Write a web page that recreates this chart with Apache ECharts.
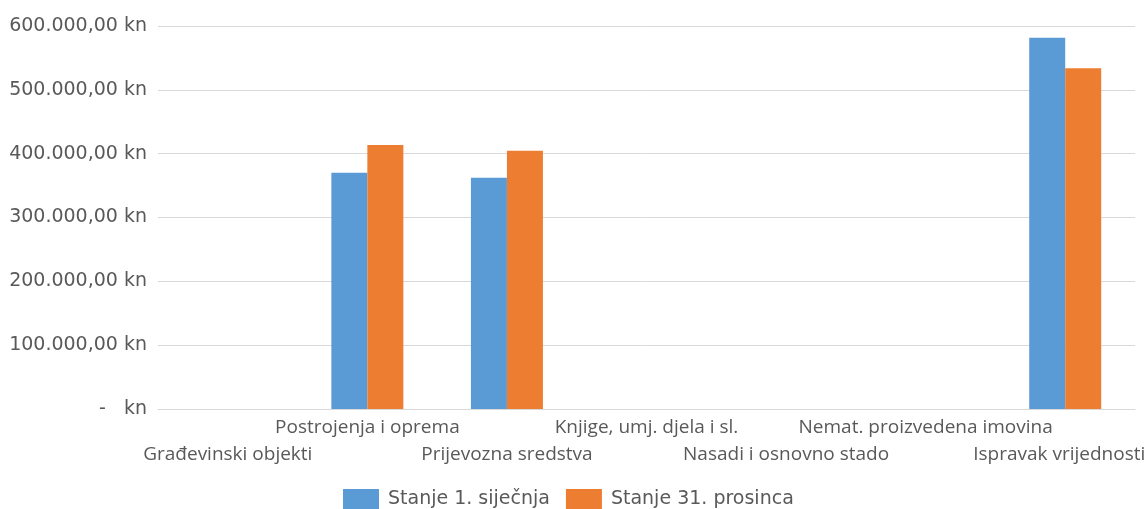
<!DOCTYPE html>
<html lang="hr">
<head>
    <meta charset="UTF-8">
    <title>Stanje imovine</title>
    <style type="text/css">
        html, body { margin: 0; padding: 0; background: #fff; }
        #chart { width: 1146px; height: 509px; }
    </style>
    <script src="https://cdn.jsdelivr.net/npm/echarts@6/dist/echarts.min.js"></script>
</head>
<body>
<div id="chart"></div>
<script type="application/javascript">
    var categories = ['Građevinski objekti', 'Postrojenja i oprema', 'Prijevozna sredstva',
        'Knjige, umj. djela i sl.', 'Nasadi i osnovno stado', 'Nemat. proizvedena imovina',
        'Ispravak vrijednosti'];
    var seriesNames = ['Stanje 1. siječnja', 'Stanje 31. prosinca'];
    var stanjeSijecanj = [0, 370200, 362400, 0, 0, 0, 581700];
    var stanjeProsinac = [0, 413600, 404700, 0, 0, 0, 533800];
    var yTicks = [0, 100000, 200000, 300000, 400000, 500000, 600000];

    function formatKn(v) {
        if (v === 0) return '-   kn';
        var s = Math.round(v).toString().replace(/\B(?=(\d{3})+(?!\d))/g, '.');
        return s + ',00 kn';
    }

    var textColor = '#595959';
    var chart = echarts.init(document.getElementById('chart'));
    chart.setOption({
        animation: false,
        color: ['#5B9BD5', '#ED7D31'],
        grid: { left: 158, right: 11, top: 26, bottom: 100, containLabel: false, outerBoundsMode: 'none' },
        legend: {
            data: seriesNames,
            left: 338,
            top: 484,
            itemWidth: 36,
            itemHeight: 20,
            itemGap: 16,
            icon: 'rect',
            textStyle: { color: textColor, fontFamily: 'DejaVu Sans', fontSize: 19, padding: [0, 0, 0, 4] }
        },
        xAxis: {
            type: 'category',
            data: categories,
            axisLine: { lineStyle: { color: '#D9D9D9' } },
            axisTick: { show: false },
            axisLabel: {
                interval: 0,
                hideOverlap: false,
                margin: 5,
                color: textColor,
                fontFamily: 'Open Sans',
                fontSize: 19,
                lineHeight: 27,
                rich: {
                    last: { fontFamily: 'Open Sans', fontSize: 19, lineHeight: 27, color: textColor, padding: [0, 12, 0, 0] }
                },
                formatter: function (value, index) {
                    if (index === categories.length - 1) return '\n{last|' + value + '}';
                    return index % 2 === 0 ? '\n' + value : value;
                }
            }
        },
        yAxis: {
            type: 'value',
            min: yTicks[0],
            max: yTicks[yTicks.length - 1],
            interval: yTicks[1] - yTicks[0],
            axisLine: { show: false },
            axisTick: { show: false },
            splitLine: { lineStyle: { color: '#D9D9D9' } },
            axisLabel: {
                margin: 11,
                color: textColor,
                fontFamily: 'DejaVu Sans',
                fontSize: 19,
                formatter: formatKn
            }
        },
        series: [
            { name: seriesNames[0], type: 'bar', data: stanjeSijecanj, barWidth: 36, barGap: '0%' },
            { name: seriesNames[1], type: 'bar', data: stanjeProsinac, barWidth: 36, barGap: '0%' }
        ]
    });
</script>
</body>
</html>
